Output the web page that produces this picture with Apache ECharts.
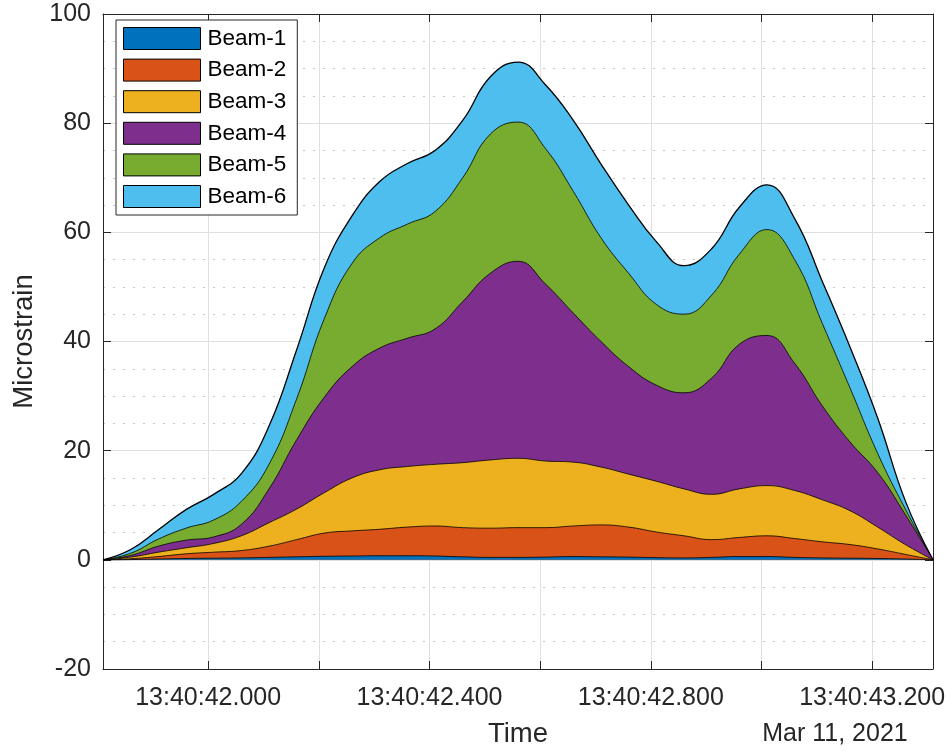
<!DOCTYPE html>
<html>
<head>
<meta charset="utf-8">
<script src="https://cdn.jsdelivr.net/npm/echarts@6/dist/echarts.min.js"></script>
<style>
html,body{margin:0;padding:0;background:#fff;}
#chart{width:952px;height:751px;}
</style>
</head>
<body>
<div id="chart"></div>
<script>
// time in ms after 13:40:00.000 (Mar 11, 2021)
const times = [41810, 41860, 41910, 41960, 42010, 42060, 42110, 42160, 42210, 42260, 42310,
  42360, 42410, 42460, 42510, 42560, 42610, 42660, 42710, 42760, 42810,
  42860, 42910, 42960, 43010, 43060, 43110, 43160, 43210, 43260, 43310];
const seriesNames = ['Beam-1', 'Beam-2', 'Beam-3', 'Beam-4', 'Beam-5', 'Beam-6'];
const beam1 = [0, 0.05, 0.15, 0.25, 0.3, 0.35, 0.45, 0.55, 0.65, 0.7, 0.75, 0.75, 0.7, 0.55, 0.45, 0.45, 0.5, 0.6, 0.55, 0.5, 0.4, 0.35, 0.45, 0.6, 0.6, 0.45, 0.35, 0.3, 0.25, 0.15, 0];
const beam2 = [0, 0.15, 0.45, 0.85, 1.1, 1.35, 2.05, 3.15, 4.25, 4.6, 4.85, 5.25, 5.5, 5.35, 5.35, 5.45, 5.4, 5.6, 5.85, 5.5, 4.7, 4.05, 3.25, 3.5, 3.8, 3.45, 2.95, 2.5, 1.75, 0.85, 0];
const beam3 = [0, 0.3, 0.8, 1.1, 1.6, 2.7, 4.3, 5.6, 7.4, 9.7, 10.9, 11.1, 11.3, 11.9, 12.5, 12.7, 12.2, 11.7, 10.6, 9.7, 9.3, 8.6, 8.3, 8.9, 9.2, 8.8, 7.7, 6.2, 4.0, 1.8, 0];
const beam4 = [0, 0.3, 1.1, 1.4, 1.2, 2.1, 6.2, 12.7, 17.5, 20.4, 22.3, 23.5, 24.8, 29.5, 34.2, 36.1, 32.4, 27.3, 23.0, 19.7, 17.6, 17.6, 21.3, 26.5, 27.5, 23.3, 17.2, 12.6, 10.0, 5.5, 0];
const beam5 = [0, 0.4, 1.3, 2.2, 3.1, 4.2, 4.5, 7.5, 14.4, 18.9, 20.2, 20.9, 21.5, 22.7, 25.5, 25.5, 24.8, 22.3, 19.0, 17.1, 14.8, 14.4, 15.2, 16.5, 19.4, 19.0, 15.1, 9.9, 3.5, 1.0, 0];
const beam6 = [0, 0.7, 1.7, 3.4, 4.7, 5.1, 7.0, 9.0, 9.3, 8.7, 10.3, 11.1, 11.2, 10.5, 10.5, 11.0, 11.7, 13.0, 13.5, 12.5, 11.5, 8.9, 8.5, 8.6, 8.2, 7.5, 7.7, 7.5, 6.5, 1.5, 0];
const xTickValues = [42000, 42200, 42400, 42600, 42800, 43000, 43200];
const xLabelValues = [42000, 42400, 42800, 43200];
const yTicks = {min: -20, max: 100, interval: 20};
const dateLabel = 'Mar 11, 2021';

const colors = ['#0072BD', '#D95319', '#EDB120', '#7E2F8E', '#77AC30', '#4DBEEE'];
const FONT = '"Liberation Sans", Arial, Helvetica, sans-serif';
const TXT = '#262626';

// stacked (cumulative) tops, built from the per-beam arrays
const allData = [beam1, beam2, beam3, beam4, beam5, beam6];
const cumulative = [];
allData.forEach((vals, i) => {
  cumulative.push(vals.map((v, k) => (i > 0 ? cumulative[i - 1][k] : 0) + v));
});

const series = allData.map((vals, i) => ({
  name: seriesNames[i],
  type: 'line',
  smooth: 0.45,
  symbol: 'none',
  showSymbol: false,
  z: 10 - i,
  itemStyle: {color: colors[i]},
  lineStyle: {color: '#000', width: i === 5 ? 1.3 : 0.8},
  areaStyle: {color: colors[i], opacity: 1, origin: 0},
  emphasis: {disabled: true},
  data: times.map((t, k) => [t, cumulative[i][k]])
}));

const chart = echarts.init(document.getElementById('chart'), null, {renderer: 'canvas'});
const xBase = {
  type: 'value', min: 41810, max: 43310,
  axisLine: {onZero: false, lineStyle: {color: TXT, width: 1}},
  axisTick: {inside: true, length: 8, customValues: xTickValues, lineStyle: {color: TXT, width: 1}},
};
const yBase = {
  type: 'value', min: yTicks.min, max: yTicks.max, interval: yTicks.interval,
  axisLine: {show: true, onZero: false, lineStyle: {color: TXT, width: 1}},
  axisTick: {show: true, inside: true, length: 8, lineStyle: {color: TXT, width: 1}},
};
chart.setOption({
  animation: false,
  backgroundColor: '#fff',
  grid: {left: 103, right: 19, top: 14, bottom: 82, containLabel: false, outerBoundsMode: 'none'},
  legend: {
    orient: 'vertical', left: 116, top: 20,
    padding: [7, 11, 7, 7],
    itemWidth: 77, itemHeight: 22, itemGap: 8.6,
    icon: 'rect',
    itemStyle: {borderColor: '#000', borderWidth: 1},
    textStyle: {fontSize: 22.5, color: '#000', fontFamily: FONT, padding: [0, 0, 0, 2]},
    backgroundColor: '#fff', borderColor: '#262626', borderWidth: 1,
    borderRadius: 0,
    selectedMode: false,
    z: 20,
    data: seriesNames
  },
  xAxis: [
    Object.assign({}, xBase, {
      position: 'bottom',
      name: 'Time', nameLocation: 'middle', nameGap: 51,
      nameTextStyle: {fontSize: 27.5, color: TXT, fontFamily: FONT},
      axisLabel: {customValues: xLabelValues, fontSize: 25, color: TXT, fontFamily: FONT, margin: 17,
        formatter: v => '13:40:' + (v / 1000).toFixed(3)},
      splitLine: {show: true, lineStyle: {color: '#dfdfdf', width: 1}}
    }),
    Object.assign({}, xBase, {
      position: 'top',
      axisLabel: {show: false},
      splitLine: {show: false}
    })
  ],
  yAxis: [
    Object.assign({}, yBase, {
      position: 'left',
      name: 'Microstrain', nameLocation: 'middle', nameGap: 65,
      nameTextStyle: {fontSize: 27.5, color: TXT, fontFamily: FONT},
      axisLabel: {fontSize: 25, color: TXT, fontFamily: FONT, margin: 12},
      splitLine: {show: true, lineStyle: {color: '#dfdfdf', width: 1}},
      minorTick: {show: false, splitNumber: 4},
      minorSplitLine: {show: true, lineStyle: {color: '#c4c4c4', width: 1, type: [2, 8]}}
    }),
    Object.assign({}, yBase, {
      position: 'right',
      axisLabel: {show: false},
      splitLine: {show: false}
    })
  ],
  graphic: [{
    type: 'text',
    x: 835, y: 734,
    style: {text: dateLabel, font: '25px ' + FONT, fill: TXT,
      textAlign: 'center', align: 'center', textVerticalAlign: 'middle', verticalAlign: 'middle'}
  }],
  series: series
});
</script>
</body>
</html>
